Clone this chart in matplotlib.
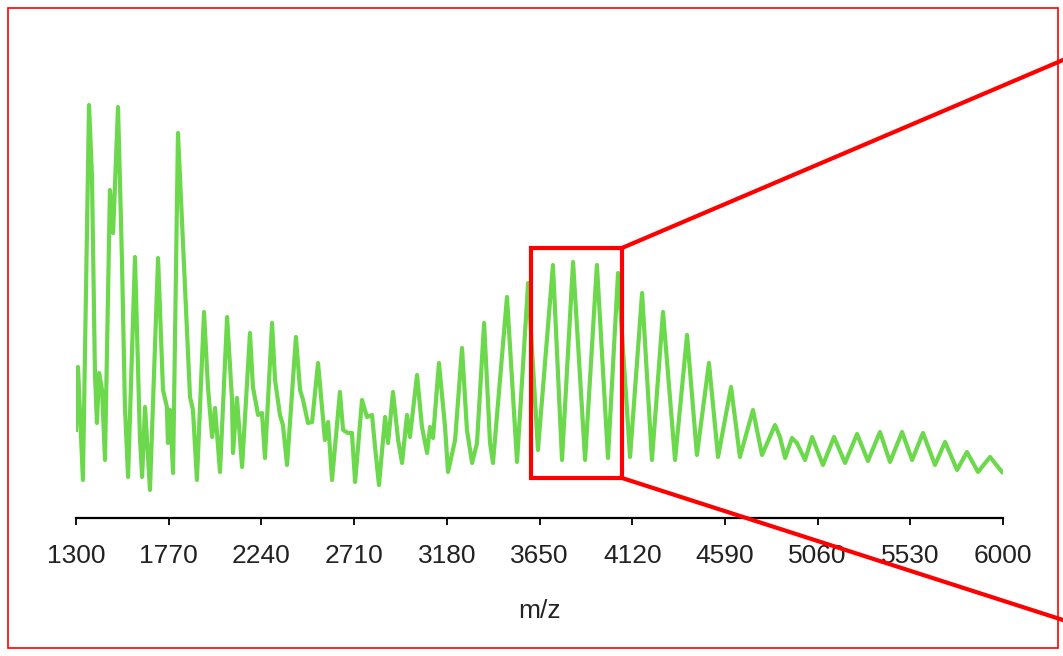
"""Mass spectrum with a zoom-window highlight."""

import matplotlib

matplotlib.use("Agg")

import matplotlib.pyplot as plt  # noqa: E402
from matplotlib.lines import Line2D  # noqa: E402
from matplotlib.patches import Rectangle  # noqa: E402

# spectrum vertices (m/z, intensity in a.u.)
mz = [
    1300, 1310, 1335, 1366, 1381, 1396, 1406, 1417, 1432, 1447,
    1472, 1488, 1513, 1533, 1548, 1564, 1599, 1624, 1635, 1650,
    1675, 1716, 1741, 1761, 1766, 1777, 1792, 1817, 1853, 1878,
    1893, 1913, 1949, 1969, 1990, 2005, 2030, 2066, 2091, 2096,
    2116, 2142, 2182, 2197, 2223, 2243, 2258, 2294, 2309, 2334,
    2349, 2370, 2415, 2436, 2451, 2476, 2497, 2527, 2547, 2562,
    2578, 2598, 2638, 2654, 2679, 2699, 2715, 2750, 2775, 2801,
    2816, 2836, 2867, 2882, 2907, 2933, 2953, 2978, 2993, 3029,
    3054, 3080, 3095, 3110, 3140, 3171, 3186, 3222, 3257, 3282,
    3308, 3333, 3369, 3399, 3414, 3485, 3536, 3592, 3642, 3718,
    3764, 3820, 3881, 3941, 3997, 4048, 4109, 4170, 4220, 4276,
    4337, 4398, 4448, 4509, 4555, 4621, 4666, 4732, 4778, 4844,
    4869, 4895, 4930, 4955, 4996, 5032, 5087, 5143, 5199, 5260,
    5315, 5376, 5427, 5488, 5539, 5594, 5655, 5706, 5767, 5817,
    5873, 5934, 5995,
]
intensity = [
    88, 151, 38, 413, 341, 145, 95, 145, 128, 58,
    328, 285, 411, 258, 111, 41, 261, 81, 41, 111,
    28, 260, 128, 111, 75, 108, 45, 385, 228, 121,
    108, 38, 206, 131, 81, 110, 46, 201, 118, 65,
    120, 51, 185, 131, 103, 105, 60, 195, 138, 103,
    93, 53, 181, 128, 118, 95, 96, 155, 111, 78,
    96, 38, 126, 88, 85, 85, 36, 118, 101, 103,
    71, 33, 101, 75, 126, 78, 55, 103, 81, 143,
    91, 65, 91, 80, 155, 91, 46, 78, 170, 88,
    55, 75, 195, 75, 55, 221, 56, 235, 68, 253,
    58, 256, 58, 253, 60, 245, 61, 225, 58, 206,
    58, 183, 63, 155, 61, 131, 61, 108, 63, 93,
    81, 60, 80, 75, 58, 81, 53, 81, 55, 84,
    57, 86, 56, 86, 58, 85, 53, 76, 48, 66,
    46, 61, 46,
]
tick_values = [1300, 1770, 2240, 2710, 3180, 3650, 4120, 4590, 5060, 5530, 6000]

# highlighted window (data coords)
zoom_x0, zoom_x1 = 3607, 4068
zoom_y0, zoom_y1 = 40, 270

fig = plt.figure(figsize=(10.63, 6.56), dpi=100)
ax = fig.add_axes([0.0715, 0.2104, 0.8721, 0.6402])

ax.plot(mz, intensity, color="#6cd84c", lw=3.0, solid_joinstyle="round")
ax.set_xlim(1300, 6000)
ax.set_ylim(0, 420)

for side in ("top", "right", "left"):
    ax.spines[side].set_visible(False)
ax.spines["bottom"].set_linewidth(1.6)
ax.set_yticks([])

font = ["Liberation Sans", "DejaVu Sans"]
ax.set_xticks(tick_values)
ax.set_xticklabels([str(t) for t in tick_values], family=font, fontsize=19,
                   color="#222222")
ax.set_xticks([1300, 6000], minor=True)
ax.tick_params(axis="x", which="major", direction="out", length=5, width=1.3, pad=14)
ax.tick_params(axis="x", which="minor", direction="out", length=11, width=1.3)
ax.set_xlabel("m/z", family=font, fontsize=19, color="#222222", labelpad=22)

# highlight box
ax.add_patch(Rectangle((zoom_x0, zoom_y0), zoom_x1 - zoom_x0, zoom_y1 - zoom_y0,
                       fill=False, edgecolor="red", lw=3, clip_on=False, zorder=5))

# connector lines to the (cropped) inset at the right
W, H = 1063, 656
upper = ax.transData.transform((zoom_x1, zoom_y1))
lower = ax.transData.transform((zoom_x1, zoom_y0))
fig.add_artist(Line2D([upper[0] / W, 1.0], [upper[1] / H, 1 - 60 / H],
                      transform=fig.transFigure, color="red", lw=3))
fig.add_artist(Line2D([lower[0] / W, 1.0], [lower[1] / H, 1 - 620 / H],
                      transform=fig.transFigure, color="red", lw=3))

# thin frame round the whole picture
fig.add_artist(Rectangle((8 / W, 8 / H), 1050 / W, 640 / H, transform=fig.transFigure,
                         fill=False, edgecolor="red", lw=1.2))

fig.savefig("out.png", dpi=100)
plt.close(fig)
